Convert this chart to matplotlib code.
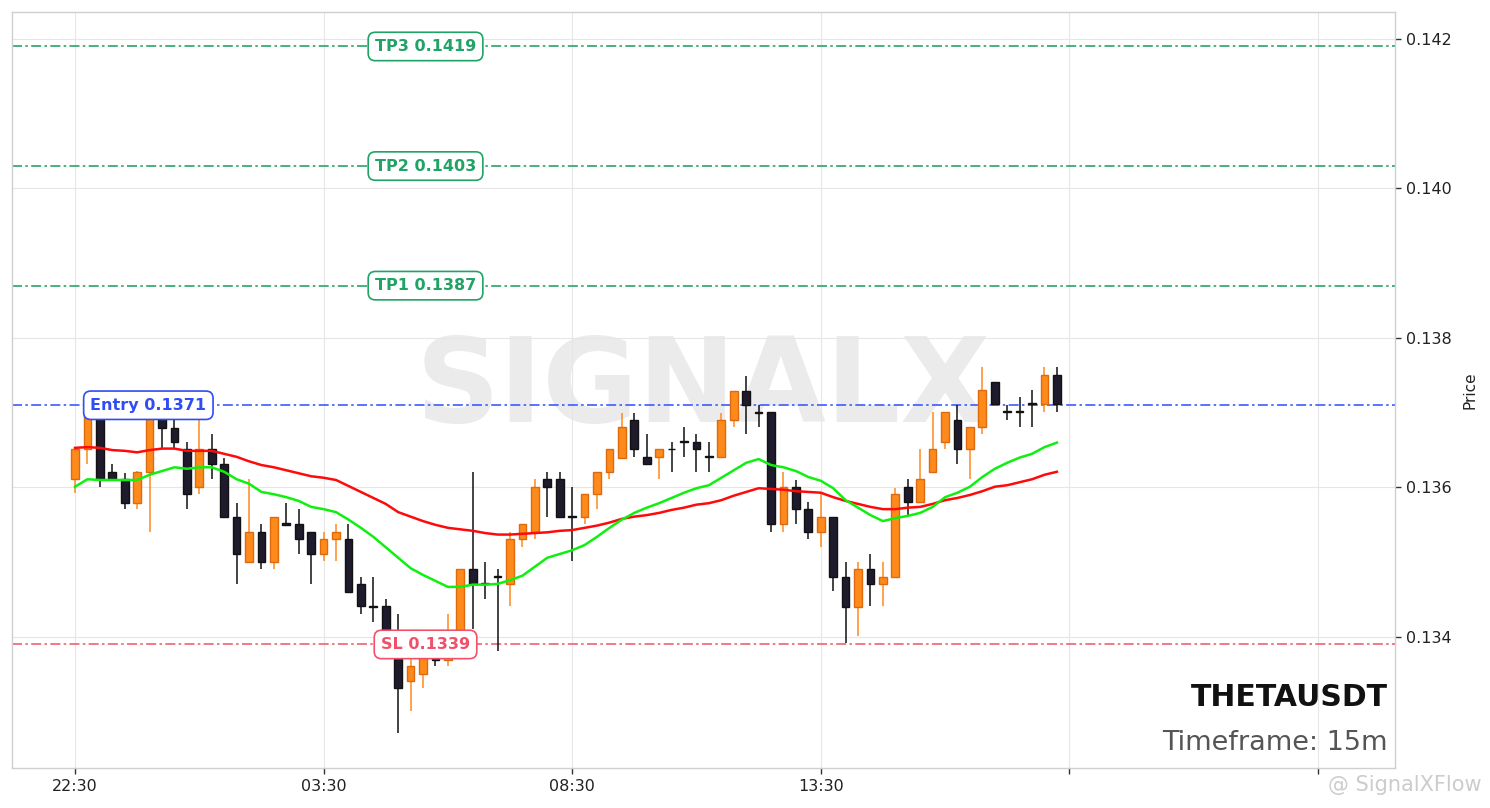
import matplotlib
matplotlib.use("Agg")
import matplotlib.pyplot as plt
import numpy as np

# ---------------- data ----------------
opens = [0.13611, 0.13652, 0.13701, 0.13621, 0.13611, 0.13579, 0.13621, 0.13705, 0.13680, 0.13652,
         0.13601, 0.13652, 0.13631, 0.13561, 0.13500, 0.13540, 0.13500, 0.13552, 0.13551, 0.13540,
         0.13511, 0.13531, 0.13531, 0.13471, 0.13442, 0.13441, 0.13396, 0.13341, 0.13351, 0.13372,
         0.13369, 0.13392, 0.13491, 0.13472, 0.13481, 0.13471, 0.13531, 0.13540, 0.13611, 0.13611,
         0.13562, 0.13561, 0.13591, 0.13621, 0.13639, 0.13690, 0.13641, 0.13641, 0.13652, 0.13662,
         0.13661, 0.13642, 0.13641, 0.13690, 0.13729, 0.13701, 0.13701, 0.13551, 0.13601, 0.13571,
         0.13540, 0.13561, 0.13480, 0.13440, 0.13491, 0.13471, 0.13480, 0.13601, 0.13581, 0.13621,
         0.13661, 0.13690, 0.13652, 0.13681, 0.13741, 0.13702, 0.13702, 0.13713, 0.13712, 0.13751]
highs = [0.13653, 0.13705, 0.13706, 0.13631, 0.13619, 0.13622, 0.13710, 0.13712, 0.13690, 0.13661,
         0.13690, 0.13672, 0.13639, 0.13579, 0.13611, 0.13551, 0.13561, 0.13579, 0.13571, 0.13540,
         0.13540, 0.13551, 0.13551, 0.13480, 0.13480, 0.13451, 0.13431, 0.13376, 0.13383, 0.13376,
         0.13431, 0.13491, 0.13621, 0.13500, 0.13491, 0.13540, 0.13551, 0.13611, 0.13621, 0.13621,
         0.13601, 0.13591, 0.13621, 0.13652, 0.13700, 0.13700, 0.13672, 0.13652, 0.13661, 0.13681,
         0.13672, 0.13661, 0.13700, 0.13729, 0.13749, 0.13710, 0.13701, 0.13621, 0.13610, 0.13581,
         0.13593, 0.13561, 0.13500, 0.13500, 0.13511, 0.13500, 0.13599, 0.13611, 0.13652, 0.13701,
         0.13701, 0.13710, 0.13681, 0.13761, 0.13741, 0.13710, 0.13721, 0.13730, 0.13761, 0.13761]
lows = [0.13593, 0.13631, 0.13601, 0.13610, 0.13571, 0.13571, 0.13540, 0.13653, 0.13653, 0.13571,
        0.13591, 0.13611, 0.13561, 0.13471, 0.13500, 0.13491, 0.13491, 0.13550, 0.13511, 0.13471,
        0.13502, 0.13502, 0.13460, 0.13431, 0.13420, 0.13390, 0.13272, 0.13301, 0.13332, 0.13361,
        0.13361, 0.13390, 0.13410, 0.13451, 0.13381, 0.13441, 0.13520, 0.13531, 0.13561, 0.13561,
        0.13502, 0.13551, 0.13571, 0.13611, 0.13639, 0.13641, 0.13631, 0.13611, 0.13621, 0.13641,
        0.13621, 0.13621, 0.13641, 0.13681, 0.13672, 0.13681, 0.13540, 0.13540, 0.13551, 0.13531,
        0.13520, 0.13462, 0.13392, 0.13401, 0.13441, 0.13441, 0.13480, 0.13561, 0.13581, 0.13621,
        0.13652, 0.13631, 0.13611, 0.13672, 0.13712, 0.13690, 0.13681, 0.13681, 0.13701, 0.13701]
closes = [0.13652, 0.13701, 0.13611, 0.13611, 0.13579, 0.13621, 0.13700, 0.13680, 0.13661, 0.13591,
          0.13652, 0.13631, 0.13561, 0.13511, 0.13540, 0.13500, 0.13561, 0.13550, 0.13531, 0.13511,
          0.13531, 0.13540, 0.13460, 0.13441, 0.13440, 0.13396, 0.13332, 0.13361, 0.13376, 0.13369,
          0.13392, 0.13491, 0.13471, 0.13471, 0.13480, 0.13531, 0.13551, 0.13601, 0.13601, 0.13561,
          0.13561, 0.13591, 0.13621, 0.13652, 0.13681, 0.13652, 0.13631, 0.13652, 0.13651, 0.13661,
          0.13652, 0.13641, 0.13690, 0.13729, 0.13710, 0.13700, 0.13551, 0.13601, 0.13571, 0.13540,
          0.13561, 0.13480, 0.13440, 0.13491, 0.13471, 0.13480, 0.13591, 0.13581, 0.13611, 0.13652,
          0.13701, 0.13652, 0.13681, 0.13730, 0.13712, 0.13701, 0.13701, 0.13712, 0.13751, 0.13712]

ema_fast = [0.13601, 0.13611, 0.13610, 0.13610, 0.13610, 0.13610, 0.13617, 0.13622, 0.13627, 0.13625,
            0.13627, 0.13627, 0.13621, 0.13611, 0.13605, 0.13594, 0.13591, 0.13587, 0.13582, 0.13574,
            0.13571, 0.13567, 0.13557, 0.13546, 0.13534, 0.13520, 0.13506, 0.13492, 0.13483, 0.13475,
            0.13467, 0.13467, 0.13470, 0.13470, 0.13471, 0.13476, 0.13482, 0.13494, 0.13506, 0.13511,
            0.13516, 0.13523, 0.13534, 0.13546, 0.13557, 0.13566, 0.13573, 0.13579, 0.13586, 0.13593,
            0.13599, 0.13603, 0.13613, 0.13623, 0.13633, 0.13638, 0.13630, 0.13627, 0.13622, 0.13614,
            0.13609, 0.13599, 0.13583, 0.13573, 0.13563, 0.13555, 0.13559, 0.13562, 0.13566, 0.13574,
            0.13587, 0.13593, 0.13601, 0.13614, 0.13625, 0.13633, 0.13640, 0.13645, 0.13654, 0.13660]
ema_slow = [0.13653, 0.13654, 0.13653, 0.13650, 0.13649, 0.13647, 0.13650, 0.13652, 0.13652, 0.13649,
            0.13649, 0.13649, 0.13645, 0.13641, 0.13635, 0.13630, 0.13627, 0.13623, 0.13619, 0.13615,
            0.13613, 0.13610, 0.13602, 0.13594, 0.13586, 0.13578, 0.13567, 0.13561, 0.13555, 0.13550,
            0.13546, 0.13544, 0.13542, 0.13539, 0.13537, 0.13537, 0.13538, 0.13539, 0.13540, 0.13542,
            0.13543, 0.13546, 0.13549, 0.13553, 0.13558, 0.13561, 0.13563, 0.13566, 0.13570, 0.13573,
            0.13577, 0.13579, 0.13583, 0.13589, 0.13594, 0.13599, 0.13598, 0.13597, 0.13595, 0.13594,
            0.13593, 0.13587, 0.13582, 0.13578, 0.13574, 0.13571, 0.13571, 0.13573, 0.13574, 0.13578,
            0.13583, 0.13586, 0.13590, 0.13595, 0.13601, 0.13603, 0.13607, 0.13611, 0.13617, 0.13621]

level_names = ["TP3", "TP2", "TP1", "Entry", "SL"]
level_values = [0.1419, 0.1403, 0.1387, 0.1371, 0.1339]

tick_positions = [0, 20, 40, 60, 80, 100]
tick_labels = ["22:30", "03:30", "08:30", "13:30", "", ""]
price_ticks = [0.134, 0.136, 0.138, 0.140, 0.142]

symbol = "THETAUSDT"
timeframe = "15m"

# ---------------- styling ----------------
UP_FILL = "#ff8a1c"
UP_EDGE = "#dd6a0c"
DN_FILL = "#1f1b2d"
DN_EDGE = "#111111"
level_colors = {"TP3": "#22a366", "TP2": "#22a366", "TP1": "#22a366",
                "Entry": "#2f4cf5", "SL": "#f0506a"}
line_colors = {"TP3": "#2aa36a", "TP2": "#2aa36a", "TP1": "#2aa36a",
               "Entry": "#3d5bff", "SL": "#f06072"}
label_x = {"TP3": 28.2, "TP2": 28.2, "TP1": 28.2, "Entry": 5.9, "SL": 28.2}

fig = plt.figure(figsize=(14.9, 8.08), dpi=100)
ax = fig.add_axes([12 / 1490, 40 / 808, 1383 / 1490, 756 / 808])
ax.set_facecolor("white")

x = np.arange(len(opens))
o = np.array(opens); h = np.array(highs); l = np.array(lows); c = np.array(closes)
up = c > o

# wicks
ax.vlines(x[up], l[up], h[up], color=UP_FILL, linewidth=1.1, zorder=2)
ax.vlines(x[~up], l[~up], h[~up], color=DN_EDGE, linewidth=1.1, zorder=2)
# bodies
body_w = 0.62
ax.bar(x[up], (c - o)[up], bottom=o[up], width=body_w, color=UP_FILL,
       edgecolor=UP_EDGE, linewidth=1.0, zorder=2.5)
ax.bar(x[~up], np.maximum((o - c)[~up], 0.000004), bottom=c[~up], width=body_w,
       color=DN_FILL, edgecolor=DN_EDGE, linewidth=1.0, zorder=2.5)

# EMAs
ax.plot(x, ema_slow, color="#ff0a0a", linewidth=1.8, zorder=3)
ax.plot(x, ema_fast, color="#10f010", linewidth=1.8, zorder=3)

# levels
for name, val in zip(level_names, level_values):
    ax.axhline(val, color=line_colors[name], linestyle=(0, (6, 2, 1.5, 2)),
               linewidth=1.2, zorder=1.5)
    ax.text(label_x[name], val, f"{name} {val:.4f}", color=level_colors[name],
            fontsize=11.5, fontweight="bold", ha="center", va="center", zorder=6,
            bbox=dict(boxstyle="round,pad=0.42,rounding_size=0.45", fc="white",
                      ec=level_colors[name], lw=1.2))

# watermark
ax.text(0.5, 0.50, "SIGNALX", transform=ax.transAxes, fontsize=84,
        fontweight="bold", color="#ebebeb", ha="center", va="center", zorder=0.5)

# symbol text
ax.text(0.9949, 0.082, symbol, transform=ax.transAxes, fontsize=21.5,
        fontweight="bold", color="#111111", ha="right", va="baseline", zorder=7)
ax.text(0.9949, 0.024, f"Timeframe: {timeframe}", transform=ax.transAxes,
        fontsize=19.5, color="#555555", ha="right", va="baseline", zorder=7)

# axes
ax.set_xlim(-5.07, 106.2)
ax.set_ylim(0.132247, 0.142361)
ax.set_xticks(tick_positions)
ax.set_xticklabels(tick_labels, fontsize=11.5, color="#222222")
ax.set_yticks(price_ticks)
ax.set_yticklabels([f"{v:.3f}" for v in price_ticks], fontsize=11.5, color="#222222")
ax.yaxis.tick_right()
ax.yaxis.set_label_position("right")
ax.set_ylabel("Price", fontsize=11, color="#222222", labelpad=8)
ax.tick_params(axis="both", length=4, width=1, color="#333333", pad=4)
ax.grid(True, color="#e6e6e6", linewidth=0.8, zorder=0)
ax.set_axisbelow(True)
for sp in ax.spines.values():
    sp.set_color("#cfcfcf")
    sp.set_linewidth(1.0)

# platform watermark at bottom
fig.text(1482 / 1490, 1 - 785 / 808, "@ SignalXFlow", fontsize=15, color="#cccccc",
         ha="right", va="center")

fig.savefig("out.png", dpi=100, facecolor="white")
